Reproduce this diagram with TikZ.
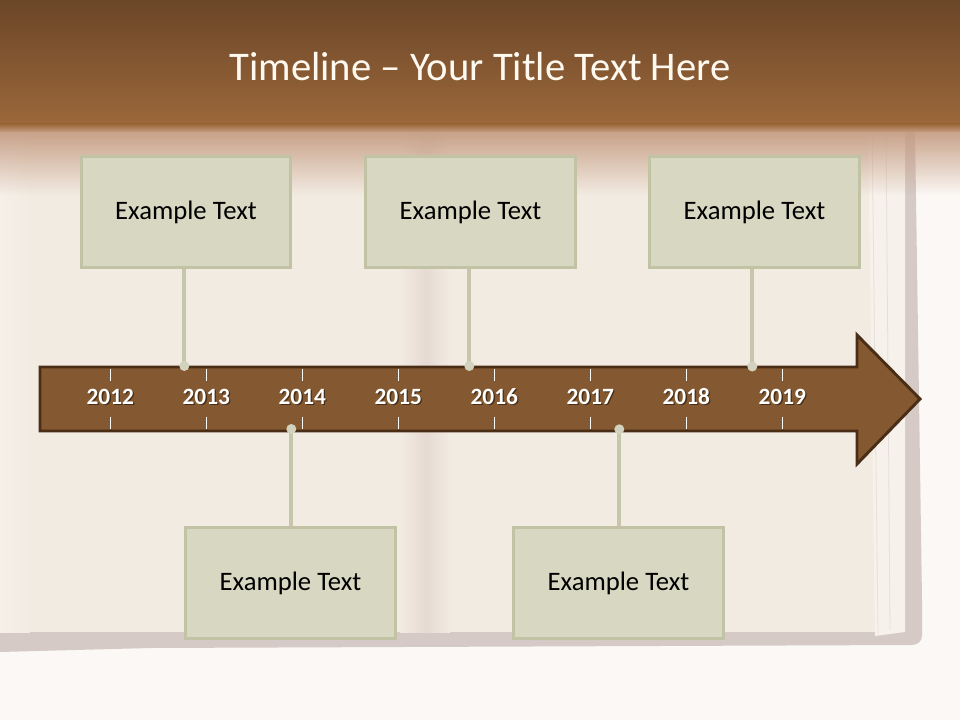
\documentclass[tikz,border=0pt]{standalone}
\usepackage{fontspec}
\setmainfont{Carlito}
\usetikzlibrary{fadings}
\pgfdeclarelayer{front}
\pgfsetlayers{main,front}
\definecolor{bgcream}{HTML}{FBF8F5}
\definecolor{page}{HTML}{F2EBE2}
\definecolor{pagelight}{HTML}{F6F1EA}
\definecolor{pageshadow}{HTML}{D5CAC5}
\definecolor{foldshade}{HTML}{E6DAD2}
\definecolor{bandtop}{HTML}{6B4628}
\definecolor{bandbot}{HTML}{9C683B}
\definecolor{fademid}{HTML}{C49A80}
\definecolor{arrowfill}{HTML}{845830}
\definecolor{arrowline}{HTML}{4A2D16}
\definecolor{boxfill}{HTML}{D7D7C2}
\definecolor{boxline}{HTML}{C2C2A4}
\definecolor{connline}{HTML}{C6C6AA}
\definecolor{dotfill}{HTML}{D2D2BE}
\definecolor{titlecol}{HTML}{FFF9F0}
\definecolor{yearshadow}{HTML}{3A2410}
\tikzset{
  textbox/.style={draw=boxline, fill=boxfill, line width=2.25pt,
    minimum width=157pt, minimum height=83pt, inner sep=0pt,
    font=\fontsize{20}{24}\selectfont, text=black},
  conn/.style={draw=connline, line width=3pt},
  dotnode/.style={circle, fill=dotfill, minimum size=7.5pt, inner sep=0pt},
  yearlbl/.style={font=\fontsize{17.5}{21}\selectfont\bfseries, text=white, inner sep=0pt, anchor=base},
  yearshd/.style={font=\fontsize{17.5}{21}\selectfont\bfseries, text=yearshadow, inner sep=0pt, opacity=0.8, anchor=base},
  tickln/.style={draw=white, line width=0.9pt},
}
\begin{document}
\begin{tikzpicture}[x=0.75pt,y=-0.75pt]
\useasboundingbox (0,0) rectangle (960,720);
% background
\fill[bgcream] (0,0) rectangle (960,720);
% book shadow and pages
\fill[pageshadow] (0,628) -- (905,628) -- (905,130) -- (915,130) -- (922,600) -- (922,636) to[out=-90,in=0] (912,645) -- (150,648) -- (0,652) -- cycle;
\fill[page] (0,125) rectangle (905,632);
\shade[left color=bgcream!35!page, right color=page] (0,125) rectangle (30,632);
\fill[pagelight] (868,125) -- (905,125) -- (905,632) -- (875,636) -- cycle;
\draw[pageshadow!60, line width=0.6pt] (886,125) -- (890,630);
\draw[pageshadow!60, line width=0.6pt] (872,125) -- (878,634);
\shade[left color=page, right color=foldshade] (400,125) rectangle (426,632);
\shade[left color=foldshade, right color=page] (426,125) rectangle (450,632);
% top band
\shade[top color=bandtop, bottom color=bandbot] (0,0) rectangle (960,126);
\fill[fademid, path fading=south] (0,125) rectangle (960,195);
\shade[top color=bandbot, bottom color=fademid] (0,124) rectangle (960,132);
\node[text=titlecol, font=\fontsize{30.5}{36}\selectfont, inner sep=0pt] (title) at (480,67) {Timeline – Your Title Text Here};
% arrow
\filldraw[fill=arrowfill, draw=arrowline, line width=2.2pt, line join=miter]
  (40,367) -- (857,367) -- (857,335) -- (920,399) -- (857,464) -- (857,431) -- (40,431) -- cycle;
% ticks and years
\foreach \yr [count=\i from 0] in {2012,2013,2014,2015,2016,2017,2018,2019} {
  \pgfmathsetmacro{\xx}{110.3+96*\i}
  \draw[tickln] (\xx,369) -- (\xx,381);
  \draw[tickln] (\xx,417) -- (\xx,429);
  \node[yearshd] (ys\yr) at (\xx+1.3,405.3) {\yr};
  \node[yearlbl] (y\yr) at (\xx,404) {\yr};
}
% boxes
\node[textbox] (b1) at (186,212) {Example Text};
\node[textbox] (b2) at (470.5,212) {Example Text};
\node[textbox] (b3) at (754.5,212) {Example Text};
\node[textbox] (b4) at (290.5,583) {Example Text};
\node[textbox] (b5) at (618.5,583) {Example Text};
% dots (front layer)
\begin{pgfonlayer}{front}
\node[dotnode] (d1) at (184.3,366) {};
\node[dotnode] (d2) at (469.3,366) {};
\node[dotnode] (d3) at (752.3,366.5) {};
\node[dotnode] (d4) at (291.3,429) {};
\node[dotnode] (d5) at (619.3,429.3) {};
\end{pgfonlayer}
% connectors
\draw[conn] (b1.south -| d1) -- (d1.center);
\draw[conn] (b2.south -| d2) -- (d2.center);
\draw[conn] (b3.south -| d3) -- (d3.center);
\draw[conn] (b4.north -| d4) -- (d4.center);
\draw[conn] (b5.north -| d5) -- (d5.center);
\end{tikzpicture}
\end{document}
